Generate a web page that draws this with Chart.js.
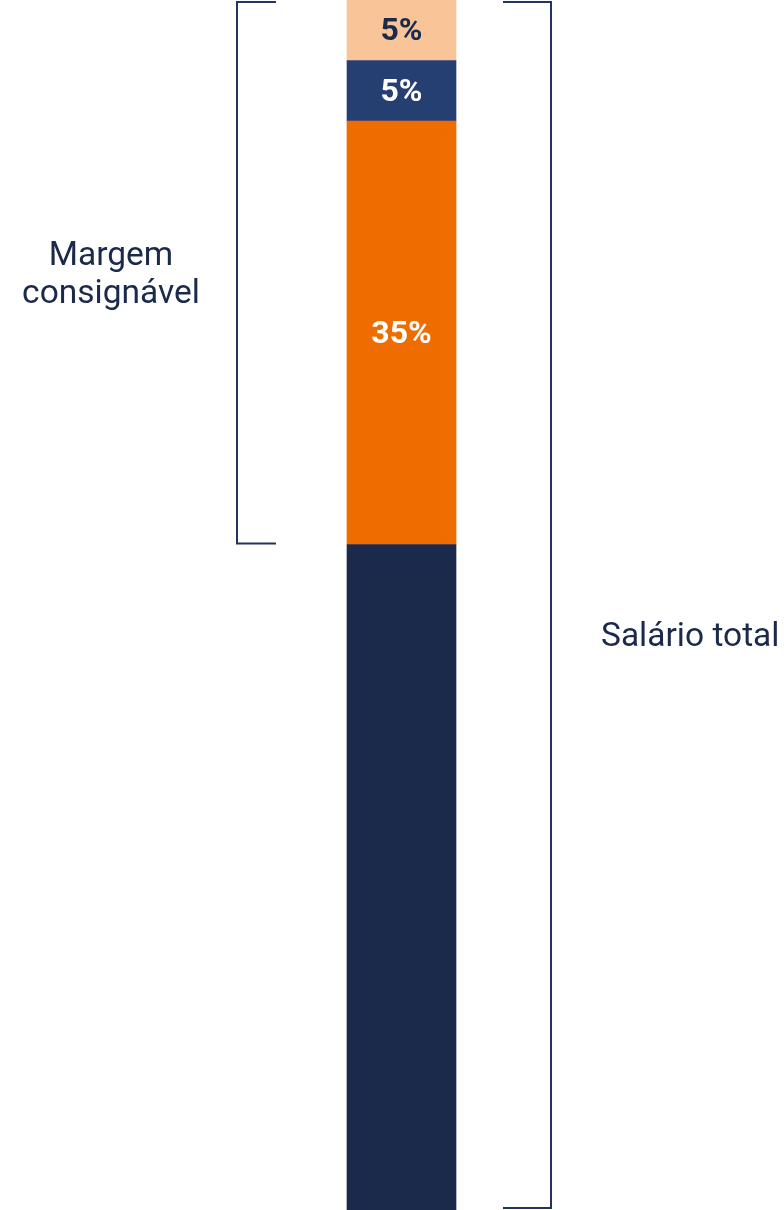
<!DOCTYPE html>
<html lang="pt">
<head>
    <meta charset="UTF-8">
    <title>Margem consignável</title>
    <script src="https://cdn.jsdelivr.net/npm/chart.js@4.4.1/dist/chart.umd.min.js"></script>
    <style>
        body {
            margin: 0;
            background-color: #ffffff;
            font-family: Roboto, Arial, sans-serif;
        }
        .chart-container {
            width: 784px;
            height: 1210px;
        }
    </style>
</head>
<body>
    <div class="chart-container">
        <canvas id="salaryChart"></canvas>
    </div>

    <script>
        // Stack, bottom to top
        const segmentNames = ['Restante', 'Consignado', 'Cartão de crédito', 'Cartão benefício'];
        const segmentValues = [55, 35, 5, 5];
        const segmentLabels = ['', '35%', '5%', '5%'];
        const segmentColors = ['#1b2a4a', '#ef6c00', '#263f73', '#f8c498'];
        const labelColors = ['#ffffff', '#ffffff', '#ffffff', '#1b2a4a'];

        // Brackets: caption lines and the value range they cover
        const bracketMargin = { lines: ['Margem', 'consignável'], from: 55, to: 100 };
        const bracketTotal = { lines: ['Salário total'], from: 0, to: 100 };

        const navy = '#1b2a4a';

        // Writes the percentage inside each segment
        const valueLabels = {
            id: 'valueLabels',
            afterDatasetsDraw(chart) {
                const ctx = chart.ctx;
                ctx.save();
                ctx.font = 'bold 32px Roboto';
                ctx.textAlign = 'center';
                ctx.textBaseline = 'middle';
                chart.data.datasets.forEach((ds, i) => {
                    const bar = chart.getDatasetMeta(i).data[0];
                    if (!segmentLabels[i]) return;
                    ctx.fillStyle = labelColors[i];
                    ctx.fillText(segmentLabels[i], bar.x, (bar.y + bar.base) / 2 + 2);
                });
                ctx.restore();
            }
        };

        // Draws the two brackets and their captions
        const brackets = {
            id: 'brackets',
            afterDraw(chart) {
                const ctx = chart.ctx;
                const y = chart.scales.y;
                ctx.save();
                ctx.strokeStyle = '#22345e';
                ctx.lineWidth = 2;
                ctx.fillStyle = navy;
                ctx.font = '33.5px Roboto';
                ctx.textBaseline = 'alphabetic';

                // left bracket
                let top = Math.max(y.getPixelForValue(bracketMargin.to), 0) + 2;
                let bottom = y.getPixelForValue(bracketMargin.from) - 1;
                ctx.beginPath();
                ctx.moveTo(276, top);
                ctx.lineTo(237, top);
                ctx.lineTo(237, bottom);
                ctx.lineTo(276, bottom);
                ctx.stroke();
                ctx.textAlign = 'center';
                ctx.fillText(bracketMargin.lines[0], 111, 265);
                ctx.fillText(bracketMargin.lines[1], 111, 303);

                // right bracket
                top = Math.max(y.getPixelForValue(bracketTotal.to), 0) + 2;
                bottom = y.getPixelForValue(bracketTotal.from) - 2;
                ctx.beginPath();
                ctx.moveTo(503, top);
                ctx.lineTo(551, top);
                ctx.lineTo(551, bottom);
                ctx.lineTo(503, bottom);
                ctx.stroke();
                ctx.textAlign = 'left';
                ctx.fillText(bracketTotal.lines[0], 601, 646);
                ctx.restore();
            }
        };

        const ctx = document.getElementById('salaryChart').getContext('2d');
        new Chart(ctx, {
            type: 'bar',
            data: {
                labels: ['Salário'],
                datasets: segmentNames.map((name, i) => ({
                    label: name,
                    data: [segmentValues[i]],
                    backgroundColor: segmentColors[i],
                    borderWidth: 0,
                    barThickness: 109
                }))
            },
            options: {
                responsive: true,
                maintainAspectRatio: false,
                animation: false,
                layout: { padding: { left: 19, right: 0, top: 0, bottom: 0 } },
                plugins: {
                    legend: { display: false },
                    tooltip: { enabled: false }
                },
                scales: {
                    x: { stacked: true, display: false },
                    y: { stacked: true, display: false, min: 0, max: 100 }
                }
            },
            plugins: [valueLabels, brackets]
        });
    </script>
</body>
</html>
